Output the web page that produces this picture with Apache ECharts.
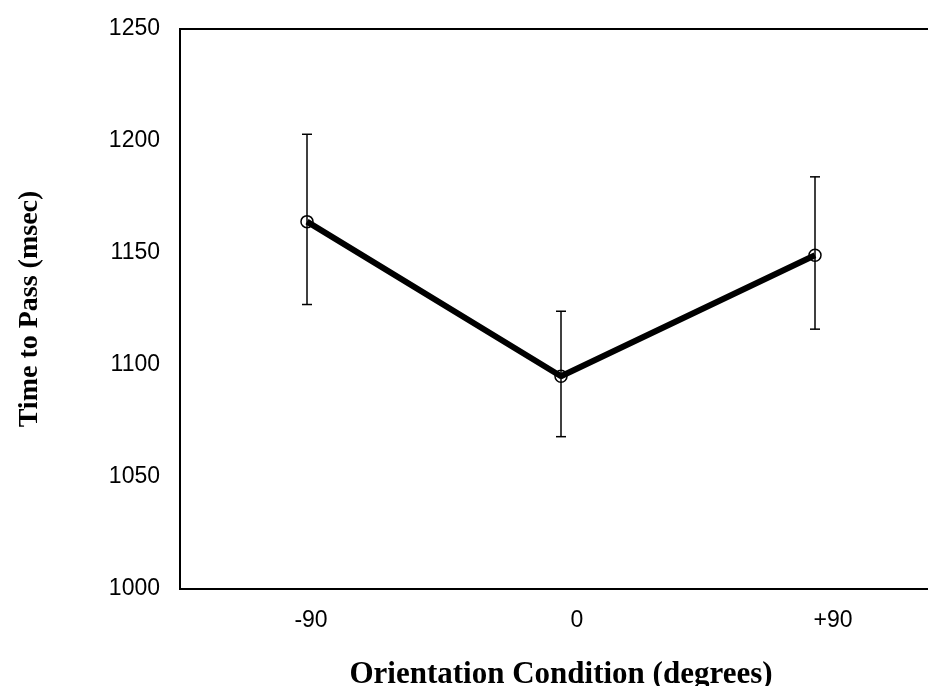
<!DOCTYPE html>
<html>
<head>
<meta charset="utf-8">
<script src="https://cdn.jsdelivr.net/npm/echarts@6/dist/echarts.min.js"></script>
<style>
  html, body { margin: 0; padding: 0; background: #fff; }
  #chart { width: 928px; height: 686px; }
</style>
</head>
<body>
<div id="chart"></div>
<script>
// orientation conditions
var categories = ['-90', '0', '+90']
// mean time to pass (msec)
var meanTime = [1164, 1095, 1149]
// error bar ends
var upperTime = [1203, 1124, 1184]
var lowerTime = [1127, 1068, 1116]
// y ticks
var yMin = 1000
var yMax = 1250
var yStep = 50

var errorData = categories.map(function (c, i) {
  return [i, lowerTime[i], upperTime[i]]
})

var myChart = echarts.init(document.getElementById('chart'))

var tickFont = { fontSize: 23, fontFamily: 'Liberation Sans', color: '#000' }

var option = {
  animation: false,
  backgroundColor: '#fff',
  grid: {
    left: 180,
    top: 29,
    width: 762,
    height: 560,
    outerBoundsMode: 'none',
    containLabel: false,
    show: true,
    borderColor: '#000',
    borderWidth: 2
  },
  xAxis: {
    type: 'category',
    data: categories,
    boundaryGap: true,
    name: 'Orientation Condition (degrees)',
    nameLocation: 'middle',
    nameGap: 70,
    nameTextStyle: {
      fontFamily: 'Liberation Serif',
      fontWeight: 'bold',
      fontSize: 31,
      color: '#000'
    },
    axisLine: { show: false },
    axisTick: { show: false },
    splitLine: { show: false },
    axisLabel: {
      margin: 20,
      color: '#000',
      fontFamily: 'Liberation Sans',
      fontSize: 23,
      // labels sit a bit right of the points in the original
      formatter: function (value, index) {
        return '{p' + index + '|' + value + '}'
      },
      rich: {
        p0: Object.assign({ padding: [0, 0, 0, 8] }, tickFont),
        p1: Object.assign({ padding: [0, 0, 0, 32] }, tickFont),
        p2: Object.assign({ padding: [0, 0, 0, 36] }, tickFont)
      }
    }
  },
  yAxis: {
    type: 'value',
    min: yMin,
    max: yMax,
    interval: yStep,
    name: 'Time to Pass (msec)',
    nameLocation: 'middle',
    nameGap: 136,
    nameTextStyle: {
      fontFamily: 'Liberation Serif',
      fontWeight: 'bold',
      fontSize: 28,
      color: '#000'
    },
    axisLine: { show: false },
    axisTick: { show: false },
    splitLine: { show: false },
    axisLabel: {
      margin: 20,
      color: '#000',
      fontFamily: 'Liberation Sans',
      fontSize: 23,
      formatter: function (v) { return String(v) }
    }
  },
  series: [
    {
      // 误差线
      type: 'custom',
      z: 1,
      data: errorData,
      renderItem: function (params, api) {
        var x = api.coord([api.value(0), api.value(1)])[0]
        var lo = api.coord([api.value(0), api.value(1)])[1]
        var hi = api.coord([api.value(0), api.value(2)])[1]
        var half = 5
        var style = { stroke: '#000', lineWidth: 1.5 }
        return {
          type: 'group',
          children: [
            { type: 'line', shape: { x1: x, y1: hi, x2: x, y2: lo }, style: style },
            { type: 'line', shape: { x1: x - half, y1: hi, x2: x + half, y2: hi }, style: style },
            { type: 'line', shape: { x1: x - half, y1: lo, x2: x + half, y2: lo }, style: style }
          ]
        }
      }
    },
    {
      type: 'line',
      z: 2,
      data: meanTime,
      symbol: 'circle',
      symbolSize: 12,
      itemStyle: {
        color: 'rgba(0,0,0,0)',
        borderColor: '#000',
        borderWidth: 1.5
      },
      lineStyle: {
        color: '#000',
        width: 6
      }
    }
  ]
}

myChart.setOption(option)
</script>
</body>
</html>
